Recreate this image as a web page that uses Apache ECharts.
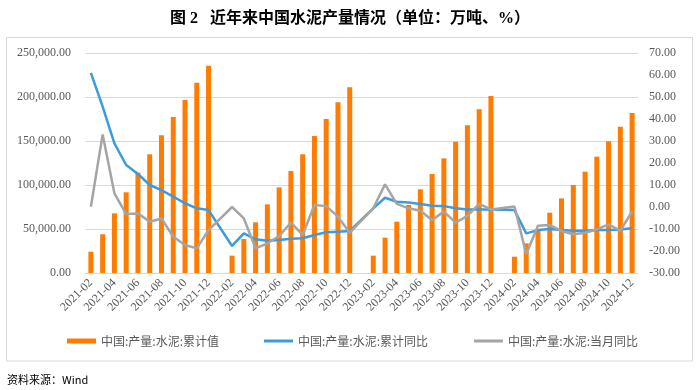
<!DOCTYPE html>
<html><head><meta charset="utf-8">
<script src="https://cdn.jsdelivr.net/npm/echarts@6/dist/echarts.min.js"></script>
<style>html,body{margin:0;padding:0;background:#fff;}#c{width:700px;height:390px;}</style>
</head><body><div id="c"></div>
<script>
const categories = [
 '2021-02','2021-03','2021-04','2021-05','2021-06','2021-07','2021-08','2021-09','2021-10','2021-11','2021-12',
 '2022-01','2022-02','2022-03','2022-04','2022-05','2022-06','2022-07','2022-08','2022-09','2022-10','2022-11','2022-12',
 '2023-01','2023-02','2023-03','2023-04','2023-05','2023-06','2023-07','2023-08','2023-09','2023-10','2023-11','2023-12',
 '2024-01','2024-02','2024-03','2024-04','2024-05','2024-06','2024-07','2024-08','2024-09','2024-10','2024-11','2024-12'];
const cumValue = [
 24200,44000,67800,91700,114000,134900,156400,177300,196600,216300,235600,
 null,19700,38600,57600,78000,97300,115900,134900,155700,175000,193900,211000,
 null,19700,40100,58300,77300,95100,112500,130300,149200,167800,186000,201100,
 null,18500,33700,48900,68500,84800,100000,115100,132200,149600,166300,181800];
const cumYoY = [
 61.0,45.6,28.9,19.1,15.0,10.0,7.7,4.7,1.7,-0.6,-1.4,
 null,-17.7,-12.0,-14.7,-15.3,-15.0,-14.4,-14.2,-12.7,-11.5,-11.2,-10.9,
 null,-0.6,4.2,2.4,2.0,1.4,0.6,0.4,-0.6,-1.1,-1.1,-1.1,
 null,-1.4,-12.0,-10.5,-10.0,-10.5,-10.8,-10.8,-10.5,-10.5,-10.2,-9.7];
const monthYoY = [
 0.1,33.0,6.2,-3.2,-2.9,-6.7,-5.2,-13.5,-17.3,-18.8,-10.5,
 null,0.0,-5.2,-18.8,-16.5,-13.2,-7.1,-12.7,0.9,0.4,-4.4,-11.7,
 null,-0.6,10.3,1.4,-0.6,-1.7,-5.9,-2.1,-7.1,-4.0,1.4,-1.1,
 null,0.2,-21.4,-8.5,-8.2,-10.9,-12.4,-11.7,-10.2,-7.9,-10.8,-2.0];
const leftTicks = {min:0, max:250000, interval:50000};
const rightTicks = {min:-30, max:70, interval:10};
const names = ['中国:产量:水泥:累计值','中国:产量:水泥:累计同比','中国:产量:水泥:当月同比'];

const serif = '"Liberation Serif","Times New Roman",serif';
const legendText = {fontSize:12, color:'#595959', fontFamily:'"Noto Sans CJK SC",sans-serif'};
function leg(name, left, h){
  return {bottom:38, left:left, itemWidth:29, itemHeight:h, icon:'rect', textStyle:legendText, data:[name]};
}
const chart = echarts.init(document.getElementById('c'));
chart.setOption({
  animation:false,
  title:{text:'图 2   近年来中国水泥产量情况（单位：万吨、%）', left:'center', top:6,
    textStyle:{fontSize:16, fontWeight:'bold', color:'#000', fontFamily:'"Liberation Serif","Noto Sans CJK SC",serif'}},
  graphic:[
    {type:'rect', shape:{x:6.5,y:37.5,width:686,height:323.5}, style:{fill:'none', stroke:'#D9D9D9', lineWidth:1}, z:-1},
    {type:'text', left:7, top:374, style:{text:'资料来源：Wind', fontSize:11, fill:'#000', fontFamily:'"Noto Sans CJK SC","Liberation Serif",serif'}}
  ],
  legend:[leg(names[0],62,5), leg(names[1],259,3), leg(names[2],469,3)],
  grid:{left:85, right:62, top:53, bottom:117},
  xAxis:{type:'category', data:categories,
    axisLine:{lineStyle:{color:'#D9D9D9'}},
    axisTick:{interval:1, lineStyle:{color:'#D9D9D9'}, length:5},
    axisLabel:{interval:1, rotate:45, color:'#595959', fontSize:12, fontFamily:serif, margin:8}},
  yAxis:[
    {type:'value', min:leftTicks.min, max:leftTicks.max, interval:leftTicks.interval,
     axisLine:{show:false}, axisTick:{show:false},
     splitLine:{lineStyle:{color:'#D9D9D9'}},
     axisLabel:{color:'#595959', fontSize:12, fontFamily:serif, margin:14,
       formatter:v=>v.toLocaleString('en-US',{minimumFractionDigits:2,maximumFractionDigits:2})}},
    {type:'value', min:rightTicks.min, max:rightTicks.max, interval:rightTicks.interval,
     axisLine:{show:false}, axisTick:{show:false}, splitLine:{show:false},
     axisLabel:{color:'#595959', fontSize:12, fontFamily:serif, margin:11, formatter:v=>v.toFixed(2)}}
  ],
  series:[
    {name:names[0], type:'bar', data:cumValue, barWidth:5, itemStyle:{color:'#FF7C00'}, yAxisIndex:0},
    {name:names[1], type:'line', data:cumYoY, yAxisIndex:1, connectNulls:true, showSymbol:false, symbol:'none',
     lineStyle:{color:'#3C9BDD', width:2.5}, itemStyle:{color:'#3C9BDD'}},
    {name:names[2], type:'line', data:monthYoY, yAxisIndex:1, connectNulls:true, showSymbol:false, symbol:'none',
     lineStyle:{color:'#A5A5A5', width:2.5}, itemStyle:{color:'#A5A5A5'}}
  ]
});
</script></body></html>
